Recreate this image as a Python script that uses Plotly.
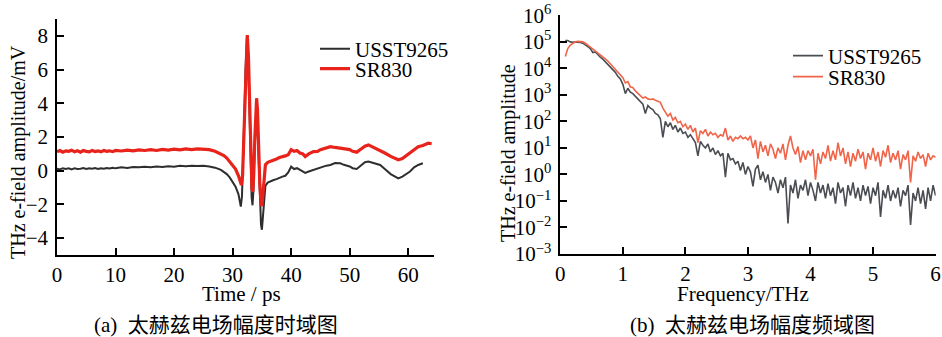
import numpy as np
import plotly.graph_objects as go

# ---------------- time-domain data (ps, mV) ----------------
sr830_t = [0, 0.5, 1, 1.5, 2, 2.5, 3, 3.5, 4, 4.5, 5, 5.5, 6, 6.5, 7, 7.5, 8, 8.5, 9, 9.5,
           10, 11, 12, 13, 14, 15, 16, 17, 18, 19, 20, 21, 22, 23, 24, 25, 26, 27, 28, 28.5,
           29, 29.5, 30, 30.5, 31, 31.3, 31.5, 31.7, 31.9, 32.1, 32.3, 32.5, 32.7, 32.9, 33.1,
           33.3, 33.45, 33.6, 33.8, 34.0, 34.1, 34.25, 34.45, 34.65, 34.85, 35.0, 35.2, 35.4,
           35.6, 36, 36.5, 37, 37.5, 38, 38.5, 39, 39.5, 40, 40.5, 41, 41.5, 42, 42.4, 43,
           43.8, 44.5, 45, 46, 46.7, 47.5, 48.4, 49, 50, 50.5, 51.2, 52, 52.6, 53.2, 54, 55.2,
           56, 57, 58.3, 59, 60.3, 61, 61.7, 62.5, 63.4, 64]
sr830_v = [1.12, 1.2, 1.1, 1.18, 1.15, 1.22, 1.12, 1.18, 1.1, 1.2, 1.15, 1.12, 1.2, 1.14, 1.18,
           1.12, 1.2, 1.15, 1.18, 1.13, 1.2, 1.17, 1.22, 1.18, 1.24, 1.2, 1.25, 1.2, 1.26, 1.22,
           1.28, 1.24, 1.3, 1.25, 1.3, 1.27, 1.25, 1.15, 1.0, 0.9, 0.75, 0.55, 0.35, 0.1, -0.3,
           -0.7, -0.85, -0.3, 1.8, 4.5, 7.0, 8.05, 6.8, 3.5, 0.5, -1.1, -1.25, -0.3, 2.0, 3.9,
           4.3, 3.6, 1.2, -0.8, -1.9, -2.1, -1.3, -0.2, 0.35, 0.5, 0.55, 0.62, 0.7, 0.78, 0.82,
           0.88, 0.95, 1.25, 1.15, 1.2, 1.05, 1.0, 0.84, 1.0, 1.13, 1.15, 1.25, 1.35, 1.43, 1.38,
           1.35, 1.32, 1.25, 1.15, 1.1, 1.3, 1.45, 1.53, 1.4, 1.23, 1.05, 0.85, 0.65, 0.72, 1.05,
           1.25, 1.43, 1.5, 1.63, 1.6]

usst_t = [0, 0.5, 1, 1.5, 2, 2.5, 3, 3.5, 4, 4.5, 5, 5.5, 6, 6.5, 7, 7.5, 8, 8.5, 9, 9.5,
          10, 11, 12, 13, 14, 15, 16, 17, 18, 19, 20, 21, 22, 23, 24, 25, 26, 27, 28, 28.5,
          29, 29.5, 30, 30.5, 31, 31.2, 31.4, 31.6, 31.8, 32.0, 32.2, 32.45, 32.65, 32.85,
          33.05, 33.25, 33.4, 33.55, 33.75, 33.95, 34.1, 34.25, 34.45, 34.65, 34.85, 35.0,
          35.2, 35.4, 35.6, 36, 36.5, 37, 37.5, 38, 38.5, 39, 39.5, 40, 40.5, 41, 41.5, 42,
          42.4, 43, 43.8, 44.5, 45, 46, 46.7, 47.5, 48.4, 49, 50, 50.5, 51.2, 52, 52.6, 53.2,
          54, 55.2, 56, 57, 58.3, 59, 60.3, 61, 61.7, 62.5]
usst_v = [0.12, 0.08, 0.15, 0.1, 0.14, 0.08, 0.15, 0.1, 0.12, 0.16, 0.1, 0.14, 0.12, 0.16, 0.1,
          0.15, 0.12, 0.16, 0.13, 0.18, 0.14, 0.2, 0.16, 0.22, 0.2, 0.24, 0.2, 0.25, 0.22, 0.27,
          0.24, 0.3, 0.26, 0.3, 0.28, 0.3, 0.25, 0.18, 0.05, -0.05, -0.2, -0.4, -0.65, -0.95,
          -1.4, -1.9, -2.13, -1.5, 0.5, 3.2, 6.0, 7.9, 6.8, 3.5, 0.3, -1.6, -2.05, -1.2, 1.2,
          3.1, 3.5, 2.6, 0.3, -1.8, -3.2, -3.5, -2.6, -1.5, -0.9, -0.7, -0.6, -0.55, -0.5,
          -0.4, -0.35, -0.3, -0.1, 0.24, 0.1, 0.15, 0.05, 0.0, -0.13, -0.05, 0.05, 0.12, 0.2,
          0.3, 0.34, 0.45, 0.44, 0.35, 0.25, 0.15, 0.1, 0.3, 0.5, 0.54, 0.45, 0.34, 0.1, -0.2,
          -0.45, -0.35, -0.05, 0.2, 0.34, 0.44]

# ---------------- frequency-domain data (THz, log10 amplitude) ----------------
freq = [round(0.08 + 0.04 * i, 2) for i in range(149)]
sr830_log_amp = [
    4.45, 4.75, 4.88, 4.95, 5.0, 5.02, 5.02, 5.0, 4.95, 4.88, 4.8, 4.72, 4.65, 4.58, 4.5,
    4.43, 4.36, 4.28, 4.18, 4.08, 3.98, 3.88, 3.75, 3.65, 3.45, 3.5, 3.3, 3.28, 3.15, 3.05,
    2.98, 2.88, 2.92, 2.85, 2.83, 2.85, 2.8, 2.75, 2.72, 2.5, 2.35, 2.2, 2.3, 2.05, 2.15,
    1.95, 2.0, 1.8, 1.9, 1.7, 1.85, 1.6, 1.75, 1.2, 1.65, 1.55, 1.7, 1.45, 1.6, 1.5, 1.55,
    1.4, 1.5, 1.45, 1.75, 1.3, 1.45, 1.25, 1.4, 1.35, 1.45, 1.35, 1.4, 1.3, 1.45, 1.0, 1.3,
    0.6, 1.25, 0.85, 1.1, 0.7, 1.15, 0.95, 0.6, 1.0, 0.8, 1.15, 0.55, 1.1, 1.45, 1.0, 0.75,
    1.05, 0.45, 0.9, 0.55, 0.9, 0.7, 0.95, -0.2, 0.8, 0.4, 0.85, 0.6, 1.1, 0.5, 0.9, 0.55,
    1.2, 0.7, 1.0, 0.4, 0.85, 0.3, 0.8, 0.5, 0.95, 0.6, 0.85, 0.2, 0.8, 0.55, 1.0, 0.5,
    0.85, 0.3, 0.9, 0.65, 1.1, 0.45, 0.8, 0.55, 0.9, 0.2, 0.75, 0.55, 0.9, -0.3, 0.7, 0.5,
    0.85, 0.6, 0.75, 0.3, 0.8, 0.55, 0.7, 0.65]
usst_log_amp = [
    5.05, 5.05, 5.0, 4.98, 5.0, 5.0, 4.98, 4.95, 4.9, 4.82, 4.75, 4.6, 4.62, 4.5, 4.42, 4.35,
    4.25, 4.15, 4.05, 3.95, 3.85, 3.7, 3.6, 3.4, 3.05, 3.25, 3.1, 3.05, 2.95, 2.85, 2.75,
    2.65, 2.3, 2.6, 2.5, 2.45, 2.3, 2.25, 2.1, 1.4, 2.0, 1.8, 1.95, 1.7, 1.85, 1.6, 1.75,
    1.55, 1.6, 1.4, 1.5, 1.35, 1.2, 0.7, 1.25, 1.1, 1.0, 1.15, 0.85, 1.0, 0.75, 0.9, 0.7,
    0.8, -0.1, 0.8, 0.55, 0.6, 0.4, 0.5, 0.15, 0.45, 0.0, 0.3, 0.1, -0.45, 0.2, 0.35, -0.2,
    0.1, -0.3, 0.0, -0.6, -0.1, -0.3, -0.7, -0.2, -0.5, -0.1, -1.85, -0.4, -0.7, -0.2, -0.9,
    -0.4, -0.6, -0.2, -0.8, -0.3, -0.6, -1.0, -0.3, -0.7, -0.4, -0.9, -0.35, -0.8, -0.5,
    -1.1, -0.3, -0.7, -0.5, -1.2, -0.4, -0.8, -0.3, -0.9, -0.5, -1.0, -0.4, -0.8, -0.45,
    -1.1, -0.5, -0.8, -0.3, -1.6, -0.6, -0.9, -0.4, -1.0, -0.6, -0.9, -0.5, -1.2, -0.6,
    -0.8, -0.4, -1.9, -0.7, -1.0, -0.5, -1.1, -0.6, -1.3, -0.5, -1.0, -0.4, -0.8]

# tick labels
time_ticks = [0, 10, 20, 30, 40, 50, 60]
amp_ticks = [-4, -2, 0, 2, 4, 6, 8]
freq_ticks = [0, 1, 2, 3, 4, 5, 6]
log_exponents = [-3, -2, -1, 0, 1, 2, 3, 4, 5, 6]
log_tick_text = ["10<sup>%s</sup>" % (str(e).replace("-", "−")) for e in log_exponents]

series_names = ["USST9265", "SR830"]
captions = ["(a)  太赫兹电场幅度时域图", "(b)  太赫兹电场幅度频域图"]

# ---------------- figure ----------------
W, H = 942, 337
SERIF = "Liberation Serif, Times New Roman, serif"
CAP_FONT = "Liberation Serif, Noto Sans CJK SC, serif"
BLACK_T = "#2e2e2e"
RED_T = "#e8231b"
BLACK_F = "#4a4d52"
RED_F = "#f0654a"

fig = go.Figure()

fig.add_trace(go.Scatter(x=usst_t, y=usst_v, mode="lines", name=series_names[0],
                         line=dict(color=BLACK_T, width=2), xaxis="x", yaxis="y",
                         legend="legend"))
fig.add_trace(go.Scatter(x=sr830_t, y=sr830_v, mode="lines", name=series_names[1],
                         line=dict(color=RED_T, width=3.2), xaxis="x", yaxis="y",
                         legend="legend2"))
fig.add_trace(go.Scatter(x=freq, y=[10 ** v for v in usst_log_amp], mode="lines",
                         name=series_names[0], line=dict(color=BLACK_F, width=1.6),
                         xaxis="x2", yaxis="y2", legend="legend3"))
fig.add_trace(go.Scatter(x=freq, y=[10 ** v for v in sr830_log_amp], mode="lines",
                         name=series_names[1], line=dict(color=RED_F, width=1.6),
                         xaxis="x2", yaxis="y2", legend="legend4"))

def px_x(p):
    return p / W

def px_y(p):
    return 1 - p / H

axis_common = dict(showline=True, linecolor="black", linewidth=1.6, ticks="inside",
                   ticklen=7, tickwidth=1.6, tickcolor="black", showgrid=False,
                   zeroline=False, automargin=False,
                   tickfont=dict(family=SERIF, size=21, color="black"),
                   fixedrange=True)

fig.update_layout(
    template="none",
    width=W, height=H,
    margin=dict(l=0, r=0, t=0, b=0, autoexpand=False),
    paper_bgcolor="white", plot_bgcolor="white",
    xaxis=dict(domain=[px_x(57), px_x(434)], range=[0, 64.4], tickmode="array",
               tickvals=time_ticks, anchor="y", ticklabelstandoff=0,
               minor=dict(tickmode="array", tickvals=[64.4], ticks="inside", ticklen=7,
                          tickwidth=1.6, tickcolor="black"),
               **axis_common),
    yaxis=dict(domain=[px_y(255), px_y(19)], range=[-5, 9], tickmode="array",
               tickvals=amp_ticks, anchor="x", ticklabelstandoff=3,
               minor=dict(tickmode="array", tickvals=[9], ticks="inside", ticklen=7,
                          tickwidth=1.6, tickcolor="black"),
               **axis_common),
    xaxis2=dict(domain=[px_x(560.3), px_x(935.7)], range=[0, 6.002], tickmode="array",
                tickvals=freq_ticks, anchor="y2", ticklabelstandoff=0, **axis_common),
    yaxis2=dict(domain=[px_y(254), px_y(15.3)], type="log", range=[-3, 6.002],
                tickmode="array", tickvals=[10.0 ** e for e in log_exponents],
                ticktext=log_tick_text, anchor="x2", ticklabelstandoff=3, **axis_common),
    showlegend=True,
)

leg_common = dict(xanchor="left", yanchor="middle", bgcolor="rgba(0,0,0,0)",
                  borderwidth=0, font=dict(family=SERIF, size=21, color="black"),
                  itemwidth=30)
fig.update_layout(
    legend=dict(x=px_x(315), y=px_y(49), **leg_common),
    legend2=dict(x=px_x(315), y=px_y(69), **leg_common),
    legend3=dict(x=px_x(788), y=px_y(56), **leg_common),
    legend4=dict(x=px_x(788), y=px_y(77), **leg_common),
)

ann = [
    dict(text="THz e-field amplitude/mV", x=px_x(18), y=px_y(152), textangle=-90, size=20),
    dict(text="THz e-field amplitude", x=px_x(508), y=px_y(153), textangle=-90, size=20),
    dict(text="Time / ps", x=px_x(241), y=px_y(294), size=21),
    dict(text="Frequency/THz", x=px_x(743), y=px_y(294), size=21),
]
for a in ann:
    sz = a.pop("size")
    fig.add_annotation(xref="paper", yref="paper", showarrow=False, xanchor="center",
                       yanchor="middle", font=dict(family=SERIF, size=sz, color="black"), **a)
for txt, cx in zip(captions, [215.5, 752.5]):
    fig.add_annotation(text=txt, xref="paper", yref="paper", x=px_x(cx), y=px_y(325),
                       showarrow=False, xanchor="center", yanchor="middle",
                       font=dict(family=CAP_FONT, size=21, color="black"))

fig.write_html("out.html", config={"displayModeBar": False},
               post_script="document.body.style.margin='0px';document.body.style.overflow='hidden';")
